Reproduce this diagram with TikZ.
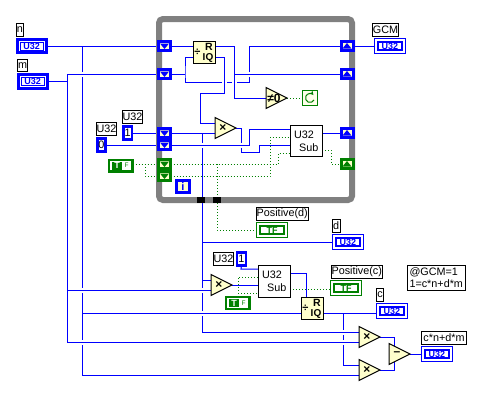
\documentclass[tikz,border=0pt]{standalone}
\usepackage{fontspec}
\setmainfont{Liberation Sans}
\usetikzlibrary{backgrounds}
\definecolor{wblue}{HTML}{0000FF}
\definecolor{wgreen}{HTML}{008000}
\definecolor{ficon}{HTML}{FFFFCC}
\definecolor{fgray}{HTML}{808080}
\tikzset{
 every node/.style={inner sep=0pt,outer sep=0pt,font=\fontsize{10.8}{12}\selectfont},
 wire/.style={draw=wblue,line width=1pt},
 bwire/.style={draw=wgreen,line width=1pt,dash pattern=on 1pt off 2pt},
 lab/.style={draw=black,fill=white,line width=1pt},
 ictl/.style={draw=wblue,fill=white,line width=3pt},
 iind/.style={draw=wblue,fill=white,line width=1pt},
 gind/.style={draw=wgreen,fill=white,line width=1pt},
 inner1/.style={draw=wblue,fill=white,line width=1pt,font=\fontsize{9}{9}\selectfont\bfseries,text=wblue},
 inner2/.style={draw=wblue,fill=white,line width=1.5pt,font=\fontsize{9}{9}\selectfont\bfseries,text=wblue},
 ginner/.style={draw=wgreen,fill=white,line width=1.5pt,font=\fontsize{9}{9}\selectfont\bfseries,text=wgreen},
 cbox/.style={draw=wblue,fill=white,line width=2.5pt},
 icon/.style={draw=black,fill=ficon,line width=1pt},
 tun/.style={fill=ficon,line width=3pt},
 tunb/.style={tun,draw=wblue},
 tung/.style={tun,draw=wgreen},
 subbox/.style={draw=black,fill=white,line width=1pt,align=left},
 boolc/.style={draw=wgreen,fill=white,line width=2.5pt},
}
\newcommand{\bx}[7]{\pgfmathsetmacro\bw{(#4)-(#2)}\pgfmathsetmacro\bh{(#5)-(#3)}%
 \node[#6,minimum width=\bw pt,minimum height=\bh pt] (#1) at ({((#2)+(#4))/2},{((#3)+(#5))/2}) {#7};}
% name, leftx, apexy, symbol
\newcommand{\tri}[4]{%
 \draw[icon,line join=miter] (#2,#3-10.5) -- (#2+21,#3) -- (#2,#3+10.5) -- cycle;
 \node[font=\fontsize{12}{12}\selectfont\bfseries] (#1) at (#2+8,#3) {#4};
 \coordinate (#1-o) at (#2+21,#3);
 \coordinate (#1-a) at (#2,#3-5);
 \coordinate (#1-b) at (#2,#3+5);}
% name x1 y1
\newcommand{\riq}[3]{%
 \bx{#1}{#2}{#3}{#2+22}{#3+22}{icon}{}
 \node[font=\fontsize{10.5}{11}\selectfont\bfseries] (#1-r) at (#2+16,#3+6) {R};
 \node[font=\fontsize{10}{10}\selectfont\bfseries] (#1-q) at (#2+15,#3+16.5) {IQ};
 \node[font=\fontsize{11}{11}\selectfont\bfseries] (#1-d) at (#2+4.5,#3+11) {÷};
 \coordinate (#1-ra) at (#2,#3+5);
 \coordinate (#1-rb) at (#2,#3+16);
 \coordinate (#1-oa) at (#2+22,#3+5);
 \coordinate (#1-ob) at (#2+22,#3+16);}
\newcommand{\tdown}[4]{\bx{#1}{#2-6}{#3-4.5}{#2+6}{#3+4.5}{#4}{}}
\newcommand{\tmark}[3]{\fill[#3] (#1-4.5,#2-2.5) -- (#1+4.5,#2-2.5) -- (#1,#2+3) -- cycle;}
\newcommand{\tmarkup}[3]{\fill[#3] (#1-4.5,#2+2.5) -- (#1+4.5,#2+2.5) -- (#1,#2-3) -- cycle;}
\newcommand{\gapv}[2]{\fill[white] (#1-1.5,#2-2.5) rectangle (#1+1.5,#2+2.5); \draw[wire] (#1-2,#2) -- (#1+2,#2);}
\newcommand{\gaph}[2]{\fill[white] (#1-2.5,#2-1.5) rectangle (#1+2.5,#2+1.5); \draw[wire] (#1,#2-2) -- (#1,#2+2);}
\begin{document}
\begin{tikzpicture}[x=1pt,y=-1pt]
\useasboundingbox (0,0) rectangle (491,400);
\begin{scope}[on background layer]
 \fill[white] (0,0) rectangle (491,400);
\end{scope}
% loop frame
\draw[fgray,line width=6pt,rounded corners=4pt] (159,19) rectangle (352,200);
\bx{s1}{197}{197}{205}{203}{fill=black}{}
\bx{s2}{213}{197}{221}{203}{fill=black}{}
% labels and terminals
\bx{ln}{16.5}{23.5}{23.5}{36}{lab}{n}
\bx{nc}{17.5}{39.5}{46}{52.5}{ictl}{}
\bx{nci}{20.5}{42.5}{43}{50}{inner1}{U32}
\bx{lm}{17.5}{59.5}{27.5}{71.5}{lab}{m}
\bx{mc}{18.5}{74.5}{47}{88}{ictl}{}
\bx{mci}{21.5}{77.5}{44}{85}{inner1}{U32}
\bx{lgcm}{374.5}{23.5}{396.5}{36}{lab}{GCM}
\bx{gc}{374.5}{38.5}{405.5}{53.5}{iind}{}
\bx{gci}{378}{42}{402}{50}{inner2}{U32}
\bx{lu1}{122.5}{110.5}{142.5}{123}{lab}{U32}
\bx{c1}{123.5}{126.5}{132}{139.5}{cbox}{1}
\bx{lu0}{96.5}{122.5}{116.5}{135}{lab}{U32}
\bx{c0}{97.5}{138.5}{105.5}{151.5}{cbox}{0}
\bx{tc}{109}{160}{132.5}{171.5}{boolc}{}
\bx{tcT}{112}{162}{122}{169.5}{fill=wgreen,text=white,font=\fontsize{9}{9}\selectfont\bfseries}{T}
\node[font=\fontsize{6.5}{7}\selectfont,text=wgreen] (tcF) at (126.5,165.5) {F};
% tunnels
\tdown{t1}{164.5}{46}{tunb}\tmark{164.5}{46}{wblue}
\tdown{t2}{164.5}{74}{tunb}\tmark{164.5}{74}{wblue}
\tdown{t3}{164.5}{133}{tunb}\tmark{164.5}{133}{wblue}
\tdown{t4}{164.5}{145}{tunb}\tmark{164.5}{145}{wblue}
\tdown{t5}{164.5}{164}{tung}\tmark{164.5}{164}{wgreen}
\tdown{t6}{164.5}{176}{tung}\tmark{164.5}{176}{wgreen}
\tdown{r1}{347}{46}{tunb}\tmarkup{347}{46}{wblue}
\tdown{r2}{347}{74}{tunb}\tmarkup{347}{74}{wblue}
\tdown{r3}{347}{133}{tunb}\tmarkup{347}{133}{wblue}
\tdown{r4}{347}{164}{tung}\tmarkup{347}{164}{wgreen}
\bx{iter}{176.5}{180.5}{189.5}{192.5}{cbox,fill=ficon,font=\fontsize{11}{11}\selectfont\bfseries,text=wblue}{i}
% functions
\riq{q1}{193}{41}
\tri{x1}{215}{128}{×}
\tri{ne}{266}{98}{≠0}
\bx{lp}{302.5}{90.5}{317.5}{105.5}{draw=wgreen,fill=ficon!40,line width=1pt}{}
\draw[wgreen,line width=1pt,-stealth] ([shift={(-25:4.5pt)}]lp.center) arc[start angle=-25,end angle=-320,radius=4.5pt];
\bx{sb1}{290.5}{125.5}{322}{156.5}{subbox}{U32\\[1pt]\hspace*{5pt}Sub}
% lower part
\bx{lpd}{256.5}{207.5}{308}{220}{lab}{Positive(d)}
\bx{tfd}{256.5}{222.5}{287.5}{237.5}{gind}{}
\bx{tfdi}{260}{226}{284}{234}{ginner}{TF}
\bx{ld}{332.5}{219.5}{340}{232}{lab}{d}
\bx{di}{332.5}{234.5}{363.5}{249.5}{iind}{}
\bx{dii}{336}{238}{360}{246}{inner2}{U32}
\bx{lu2}{213.5}{252.5}{233.5}{265}{lab}{U32}
\bx{c2}{237}{252.5}{246}{265.5}{cbox}{1}
\tri{x2}{211}{285}{×}
\bx{sb2}{258.5}{265.5}{290}{297}{subbox}{U32\\[1pt]\hspace*{5pt}Sub}
\bx{tc2}{226}{297}{249.5}{309}{boolc}{}
\bx{tc2T}{229}{299}{239}{307}{fill=wgreen,text=white,font=\fontsize{9}{9}\selectfont\bfseries}{T}
\node[font=\fontsize{6.5}{7}\selectfont,text=wgreen] (tc2F) at (243.5,303) {F};
\riq{q2}{301}{297}
\bx{lpc}{331.5}{265.5}{382}{278}{lab}{Positive(c)}
\bx{tfc}{330.5}{280.5}{361.5}{295.5}{gind}{}
\bx{tfci}{334}{284}{358}{292}{ginner}{TF}
\bx{lc}{376.5}{288.5}{383.5}{301}{lab}{c}
\bx{ci}{376.5}{303.5}{407.5}{318.5}{iind}{}
\bx{cii}{380}{307}{404}{315}{inner2}{U32}
\tri{x3}{359}{337}{×}
\tri{x4}{359}{370}{×}
\tri{mi}{389}{354}{–}
\bx{lres}{421.5}{331.5}{466.5}{344}{lab}{c*n+d*m}
\bx{res}{421.5}{346.5}{452.5}{361.5}{iind}{}
\bx{resi}{425}{350}{449}{358}{inner2}{U32}
\bx{note}{407.5}{265.5}{465}{290}{lab,align=left}{@GCM=1\\[0pt]1=c*n+d*m}
% junctions
\coordinate (ja) at (82,46);
\coordinate (jb) at (67,74);
\coordinate (jc) at (185,74);
\coordinate (jd) at (234,74);
\coordinate (je) at (202,133);
\coordinate (jf) at (145,164);
\coordinate (jg) at (217,164);
\coordinate (jh) at (67,290);
\coordinate (ji) at (82,313);
\coordinate (jj) at (343,313);
\coordinate (jk) at (238,293);
\begin{scope}[on background layer]
 % upper blue wires
 \draw[wire] (nc.east) -- (t1.west);
 \draw[wire] (ja) -- (82,375) -- (x4-b);
 \draw[wire] (mc.east) -| (jb) -- (t2.west);
 \draw[wire] (jb) |- (x3-b);
 \draw[wire] (jh) -- (x2-b);
 \draw[wire] (ji) -- (q2-rb);
 \draw[wire] (t1.east) -- (q1.west |- t1.east);
 \draw[wire] (t2.east) -- (jc);
 \draw[wire] (q1-rb) -| (jc) -- (185,82) -- (249,82) -- (249,46) -- (r1.west);
 \draw[wire] (q1-oa) -- (234,46) -- (234,98) -- (ne-a |- ne-o);
 \draw[wire] (jd) -- (r2.west);
 \draw[wire] (q1-ob) -- (224,57) -- (224,93) -- (200,93) -- (200,123) -- (x1-a);
 \draw[wire] (c1.east) -- (t3.west);
 \draw[wire] (c0.east) -- (t4.west);
 \draw[wire] (t3.east) -- (x1-b);
 \draw[wire] (je) -- (202,332) -- (x3-a);
 \draw[wire] (t4.east) -- (249,145) -- (249,129) -- (sb1.west |- 0,129);
 \draw[wire] (x1-o) -- (241,128) -- (241,152) -- (259,152) -- (259,145) -- (sb1.west |- 0,145);
 \draw[wire] (sb1.east |- r3.west) -- (r3.west);
 \draw[wire] (r1.east) -- (gc.west);
 % lower blue wires
 \draw[wire] (202,242) -- (di.west);
 \draw[wire] (202,280) -- (x2-a);
 \draw[wire] (x2-o) -- (sb2.west |- x2-o);
 \draw[wire] (c2.south) -- (241,269) -- (sb2.west |- 0,269);
 \draw[wire] (sb2.east |- 0,273) -- (306,273) -- (306,297);
 \draw[wire] (q2-ob) -- (ci.west |- q2-ob);
 \draw[wire] (jj) -- (343,365) -- (x4-a);
 \draw[wire] (x3-o) -- (394,337) -- (394,346);
 \draw[wire] (x4-o) -- (394,370) -- (394,362);
 \draw[wire] (mi-o) -- (res.west);
 % gaps at crossings
 \gapv{82}{74}\gapv{82}{290}\gapv{82}{342}
 \gapv{202}{145}\gapv{202}{313}\gapv{202}{290}
 \gapv{249}{74}\gapv{241}{145}
 \gapv{343}{332}\gapv{343}{342}
 \gaph{224}{82}\gaph{234}{82}
 % boolean wires
 \draw[bwire] (tc.east |- t5.west) -- (t5.west);
 \draw[bwire] (jf) -- (145,176) -- (t6.west);
 \draw[bwire] (t5.east) -- (278,164) -- (278,153) -- (sb1.west |- 0,153);
 \draw[bwire] (t6.east) -- (270,176) -- (270,137) -- (sb1.west |- 0,137);
 \draw[bwire] (jg) -- (217,230) -- (tfd.west);
 \draw[bwire] (sb1.east |- 0,150) -- (331,150) -- (331,164) -- (r4.west);
 \draw[bwire] (ne-o) -- (lp.west);
 \draw[bwire] (tc2.north -| 238,0) -- (238,277) -- (sb2.west |- 0,277);
 \draw[bwire] (jk) -- (sb2.west |- jk);
 \draw[bwire] (sb2.east |- 0,289) -- (tfc.west |- 0,289);
\end{scope}
\end{tikzpicture}
\end{document}
